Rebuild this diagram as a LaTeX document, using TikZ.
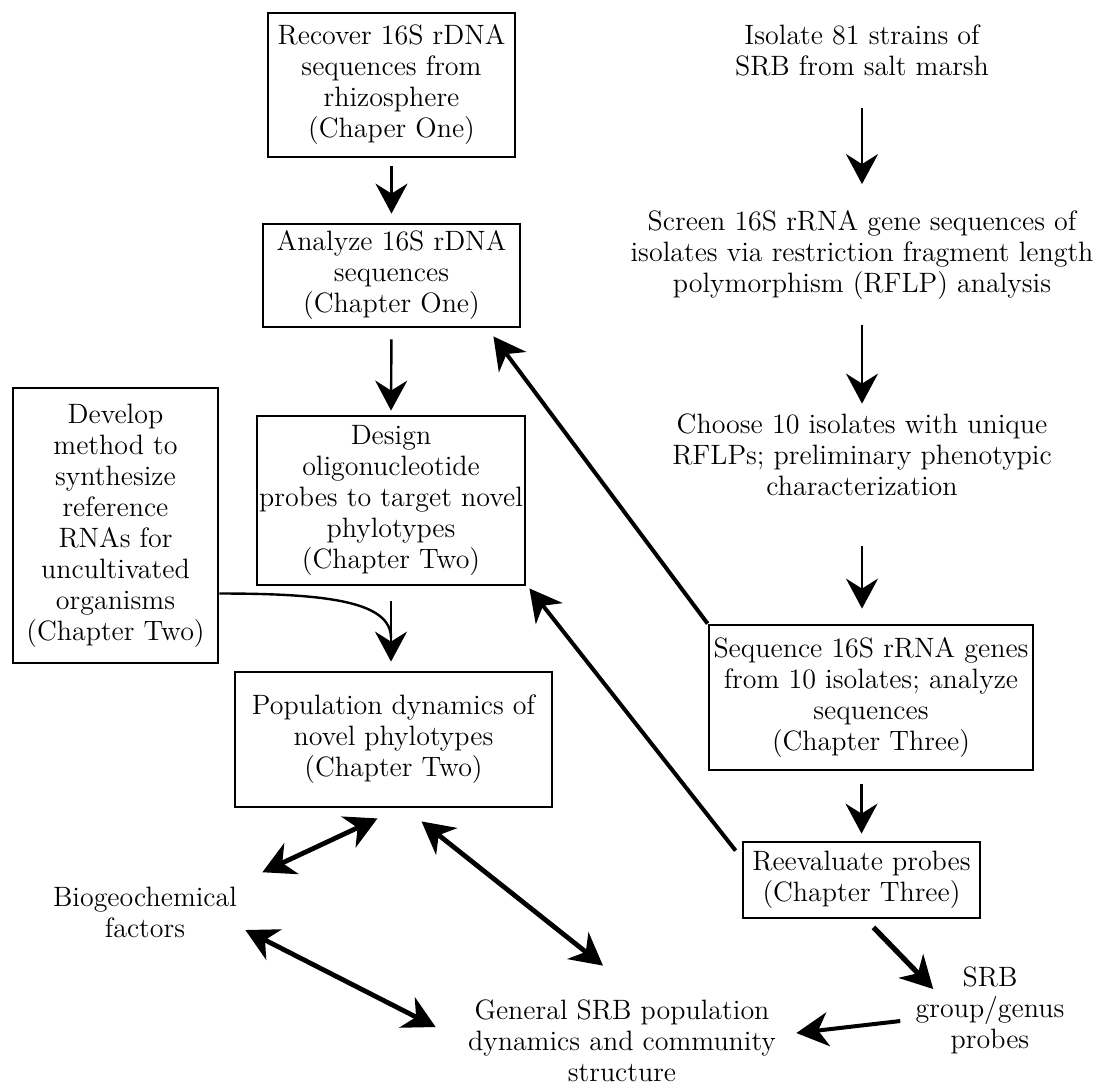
\documentclass[tikz,border=0pt]{standalone}
\usetikzlibrary{arrows.meta}

\tikzset{
  box/.style={draw, line width=1.4pt, align=center, inner sep=2pt},
  txt/.style={align=center, inner sep=0pt},
  down/.style={-{Stealth[length=15pt,width=16pt,inset=5pt]}, line width=1.2pt},
  back/.style={-{Stealth[length=16pt,width=17pt,inset=5pt]}, line width=2pt},
  both/.style={{Stealth[length=16pt,width=17pt,inset=5pt]}-{Stealth[length=16pt,width=17pt,inset=5pt]}, line width=2.4pt},
}

\begin{document}
\begin{tikzpicture}[x=0.5pt,y=-0.5pt,font=\fontsize{14}{15.5}\selectfont]
    \useasboundingbox (0,0) rectangle (1106,1088);

    % Left column: rhizosphere clones
    \node[box, minimum width=123.5pt, minimum height=72pt] (recover) at (391.5,85)
        {Recover 16S rDNA\\sequences from\\rhizosphere\\(Chaper One)};
    \node[box, minimum width=128.5pt, minimum height=51.5pt] (analyze) at (391.5,275.5)
        {Analyze 16S rDNA\\sequences\\(Chapter One)};
    \node[box, minimum width=134pt, minimum height=84.5pt, inner sep=1pt] (design) at (391,500.5)
        {Design\\oligonucleotide\\probes to target novel\\phylotypes\\(Chapter Two)};
    \node[box, minimum width=102.5pt, minimum height=137.5pt] (develop) at (115.5,525.5)
        {Develop\\method to\\synthesize\\reference\\RNAs for\\uncultivated\\organisms\\(Chapter Two)};
    \node[box, minimum width=158.5pt, minimum height=67.5pt] (popdyn) at (393.5,739.5)
        {Population dynamics of\\novel phylotypes\\(Chapter Two)};

    % Right column: isolates
    \node[txt] (isolate) at (862,50) {Isolate 81 strains of\\SRB from salt marsh};
    \node[txt] (screen) at (862,255) {Screen 16S rRNA gene sequences of\\isolates via restriction fragment length\\polymorphism (RFLP) analysis};
    \node[txt] (choose) at (862,455) {Choose 10 isolates with unique\\RFLPs; preliminary phenotypic\\characterization};
    \node[box, minimum width=162pt, minimum height=72.5pt] (seq) at (871,697.5)
        {Sequence 16S rRNA genes\\from 10 isolates; analyze\\sequences\\(Chapter Three)};
    \node[box, minimum width=118.5pt, minimum height=38pt] (reeval) at (861.5,880)
        {Reevaluate probes\\(Chapter Three)};

    % Bottom row
    \node[txt] (bio) at (145,912) {Biogeochemical\\factors};
    \node[txt] (general) at (622,1041) {General SRB population\\dynamics and community\\structure};
    \node[txt] (srb) at (990,1010) {SRB\\group/genus\\probes};

    % Vertical arrows
    \draw[down, shorten <=4pt, shorten >=4.5pt] (recover.south) -- (analyze.north);
    \draw[down, shorten <=5.5pt, shorten >=2pt] (analyze.south) -- (design.north);
    \draw[down, shorten <=7.5pt, shorten >=4.5pt] (design.south) -- (design.south |- popdyn.north);
    \draw[down, shorten <=16pt, shorten >=13pt] (isolate.south) -- (screen.north);
    \draw[down, shorten <=12.5pt, shorten >=5pt] (screen.south) -- (choose.north);
    \draw[down, shorten <=25pt, shorten >=7.5pt] (choose.south) -- (choose.south |- seq.north);
    \draw[down, shorten <=6.5pt, shorten >=3.5pt] (reeval.north |- seq.south) -- (reeval.north);

    % Reference RNAs feed into the probe arrow
    \coordinate (merge) at (391,638);
    \draw[line width=1.2pt] ([yshift=-34pt]develop.east) .. controls +(55pt,0) and +(0,18pt) .. (merge);

    % Feedback arrows
    \draw[back] (seq.north west) -- ([xshift=-14pt,yshift=-4pt]analyze.south east);
    \draw[back] ([xshift=-3pt,yshift=-5pt]reeval.north west) -- ([xshift=1.5pt,yshift=-1pt]design.south east);
    \draw[back, line width=2.6pt] ([xshift=6pt,yshift=-4pt]reeval.south) -- ([xshift=9pt,yshift=-11.5pt]srb.north west);
    \draw[back] ([xshift=-7.5pt,yshift=-5.5pt]srb.west) -- ([xshift=10pt,yshift=4pt]general.east);

    % Interactions
    \draw[both] ([xshift=-8pt,yshift=-5pt]popdyn.south) -- ([xshift=12.5pt,yshift=7pt]bio.north east);
    \draw[both] ([xshift=14pt,yshift=-6.5pt]popdyn.south) -- ([xshift=-9.5pt,yshift=17pt]general.north);
    \draw[both] ([xshift=4pt,yshift=-9pt]bio.east) -- ([xshift=-16pt,yshift=7pt]general.west);
\end{tikzpicture}
\end{document}
